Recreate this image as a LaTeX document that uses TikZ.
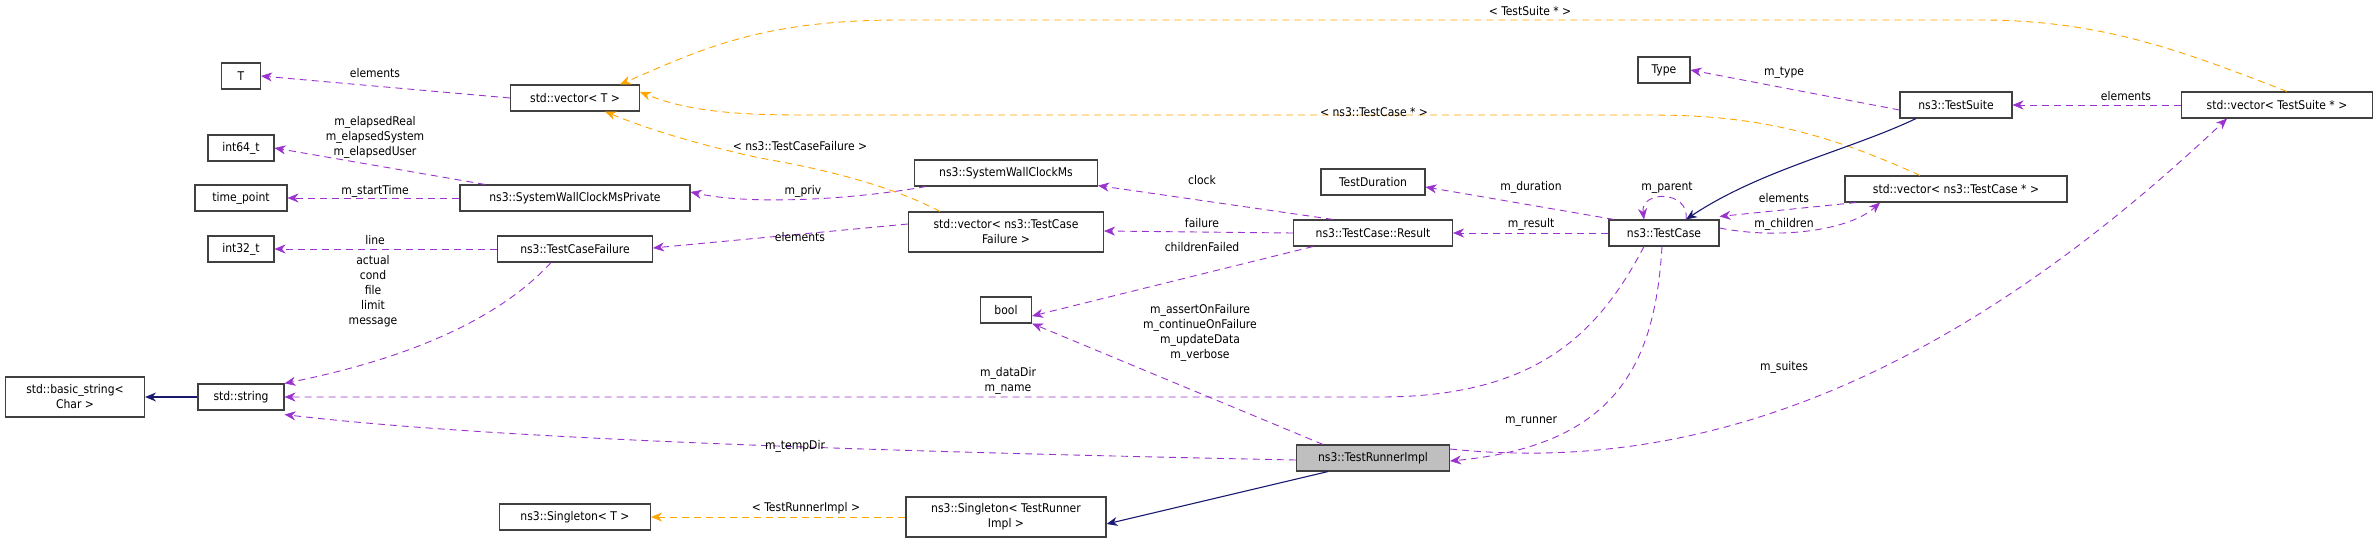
\documentclass[tikz,border=0pt]{standalone}
\usepackage{fontspec}
\setmainfont{DejaVu Sans Condensed}
\usetikzlibrary{arrows.meta}
\definecolor{mem}{HTML}{9A32CD}
\definecolor{tpl}{HTML}{FFA500}
\definecolor{inh}{HTML}{191970}
\begin{document}
\begin{tikzpicture}[x=1pt,y=-1pt,
  box/.style={draw=black!75,line width=1.1pt,fill=white,minimum height=26pt,inner xsep=6pt,inner ysep=2pt,align=center,font=\fontsize{12}{15}\selectfont},
  lbl/.style={font=\fontsize{12}{15}\selectfont,align=center,inner sep=1pt},
  m/.style={-{Stealth[length=11pt,width=9pt,fill=mem,line width=0.5pt]},draw=mem,line width=0.9pt,dash pattern=on 7pt off 5pt},
  t/.style={-{Stealth[length=11pt,width=9pt,fill=tpl,line width=0.5pt]},draw=tpl,line width=0.9pt,dash pattern=on 7pt off 5pt},
  h/.style={-{Stealth[length=11pt,width=9pt,fill=inh]},draw=inh,line width=1.1pt}]
\useasboundingbox (0,0) rectangle (2379,543);
% nodes
\node[box,minimum width=39pt] (T) at (241,76) {T};
\node[box,minimum width=129pt] (vT) at (575,98) {std::vector< T >};
\node[box,minimum width=66pt] (i64) at (241,148) {int64\_t};
\node[box,minimum width=92pt] (tp) at (241,198) {time\_point};
\node[box,minimum width=230pt] (swp) at (575,198) {ns3::SystemWallClockMsPrivate};
\node[box,minimum width=66pt] (i32) at (241,249) {int32\_t};
\node[box,minimum width=155pt] (tcf) at (575,249) {ns3::TestCaseFailure};
\node[box,minimum width=139pt,minimum height=40pt] (bs) at (75,397) {std::basic\_string<\\Char >};
\node[box,minimum width=86pt] (str) at (241,397) {std::string};
\node[box,minimum width=151pt] (sT) at (575,517) {ns3::Singleton< T >};
\node[box,minimum width=183pt] (swc) at (1006,173) {ns3::SystemWallClockMs};
\node[box,minimum width=195pt,minimum height=40pt] (vtcf) at (1006,232) {std::vector< ns3::TestCase\\Failure >};
\node[box,minimum width=51pt] (bool) at (1006,310) {bool};
\node[box,minimum width=200pt,minimum height=40pt] (str2) at (1006,517) {ns3::Singleton< TestRunner\\Impl >};
\node[box,minimum width=104pt] (td) at (1373,182) {TestDuration};
\node[box,minimum width=159pt] (res) at (1373,233) {ns3::TestCase::Result};
\node[box,minimum width=153pt,fill=black!25] (tri) at (1373,458) {ns3::TestRunnerImpl};
\node[box,minimum width=110pt] (tc) at (1664,233) {ns3::TestCase};
\node[box,minimum width=52pt] (ty) at (1664,70) {Type};
\node[box,minimum width=112pt] (ts) at (1956,105) {ns3::TestSuite};
\node[box,minimum width=222pt] (vtc) at (1956,189) {std::vector< ns3::TestCase * >};
\node[box,minimum width=191pt] (vts) at (2277,105) {std::vector< TestSuite * >};
% edges
\draw[m] (vT.west) -- (T.east);
\draw[m] ([xshift=-90pt]swp.north) -- (i64.east);
\draw[m] (swp.west) -- (tp.east);
\draw[m] (tcf.west) -- (i32.east);
\draw[m] ([xshift=-24pt]tcf.south) .. controls (480,340) and (350,370) .. (str.north east);
\draw[h] (str.west) -- (bs.east);
\draw[m] ([xshift=-80pt]swc.south) .. controls (850,200) and (750,205) .. ([yshift=6pt]swp.east);
\draw[m] ([yshift=8pt]vtcf.west) -- ([yshift=1pt]tcf.east);
\draw[t] ([xshift=-66pt]vtcf.north) .. controls (880,180) and (800,165) .. (760,158) .. controls (700,145) and (650,130) .. ([xshift=30pt]vT.south);
\draw[t] ([xshift=-36pt]vtc.north) .. controls (1820,130) and (1750,115) .. (1650,115) -- (800,115) .. controls (720,115) and (680,108) .. ([yshift=6pt]vT.east);
\draw[t] ([xshift=10pt]vts.north) .. controls (2180,50) and (2100,20) .. (1980,20) -- (900,20) .. controls (760,20) and (700,50) .. ([xshift=45pt]vT.north);
\draw[t] (str2.west) -- (sT.east);
\draw[h] ([xshift=-45pt]tri.south) -- ([yshift=-7pt]str2.east);
\draw[m] ([xshift=-40pt]res.north) -- ([yshift=1pt]swc.south east);
\draw[m] (res.west) -- ([yshift=1pt]vtcf.east);
\draw[m] ([xshift=-60pt]res.south) -- ([yshift=-6pt]bool.east);
\draw[m] ([xshift=-50pt]tri.north) -- (bool.south east);
\draw[m] ([xshift=-50pt]tc.north) -- ([yshift=-5pt]td.east);
\draw[m] (tc.west) -- (res.east);
\draw[m] ([xshift=-20pt]tc.south) .. controls (1600,330) and (1540,397) .. (1380,397) -- (str.east);
\draw[m] ([yshift=-2pt]tri.west) .. controls (900,452) and (500,440) .. ([yshift=-4pt]str.south east);
\draw[m] ([xshift=-2pt]tc.south) .. controls (1655,360) and (1620,445) .. ([yshift=-3pt]tri.east);
\draw[m] ([yshift=9pt]tri.east) .. controls (1700,475) and (1950,380) .. ([xshift=-50pt]vts.south);
\draw[m] ([yshift=-5pt]ts.west) -- (ty.east);
\draw[h] ([xshift=-40pt]ts.south) .. controls (1850,150) and (1760,170) .. ([xshift=22pt]tc.north);
\draw[m] (vts.west) -- (ts.east);
\draw[m] ([xshift=22pt]tc.north) .. controls (1690,190) and (1640,190) .. ([xshift=-20pt]tc.north);
\draw[m] ([xshift=-100pt]vtc.south) -- ([yshift=3pt]tc.north east);
\draw[m] ([yshift=5pt]tc.east) .. controls (1780,240) and (1850,230) .. ([xshift=-76pt]vtc.south);
% labels
\node[lbl] (l1) at (375,73) {elements};
\node[lbl] (l2) at (375,137) {m\_elapsedReal\\m\_elapsedSystem\\m\_elapsedUser};
\node[lbl] (l3) at (375,191) {m\_startTime};
\node[lbl] (l4) at (375,240) {line};
\node[lbl] (l5) at (373,291) {actual\\cond\\file\\limit\\message};
\node[lbl] (l6) at (803,191) {m\_priv};
\node[lbl] (l7) at (800,237) {elements};
\node[lbl] (l8) at (800,146) {< ns3::TestCaseFailure >};
\node[lbl] (l9) at (1374,112) {< ns3::TestCase * >};
\node[lbl] (l10) at (1530,11) {< TestSuite * >};
\node[lbl] (l11) at (806,508) {< TestRunnerImpl >};
\node[lbl] (l12) at (1202,180) {clock};
\node[lbl] (l13) at (1202,223) {failure};
\node[lbl] (l14) at (1202,247) {childrenFailed};
\node[lbl] (l15) at (1200,333) {m\_assertOnFailure\\m\_continueOnFailure\\m\_updateData\\m\_verbose};
\node[lbl] (l16) at (1531,187) {m\_duration};
\node[lbl] (l17) at (1531,224) {m\_result};
\node[lbl] (l18) at (1008,381) {m\_dataDir\\m\_name};
\node[lbl] (l19) at (795,446) {m\_tempDir};
\node[lbl] (l20) at (1531,422) {m\_runner};
\node[lbl] (l21) at (1784,367) {m\_suites};
\node[lbl] (l22) at (1784,73) {m\_type};
\node[lbl] (l23) at (2126,96) {elements};
\node[lbl] (l24) at (1667,188) {m\_parent};
\node[lbl] (l25) at (1784,198) {elements};
\node[lbl] (l26) at (1784,224) {m\_children};
\end{tikzpicture}
\end{document}
